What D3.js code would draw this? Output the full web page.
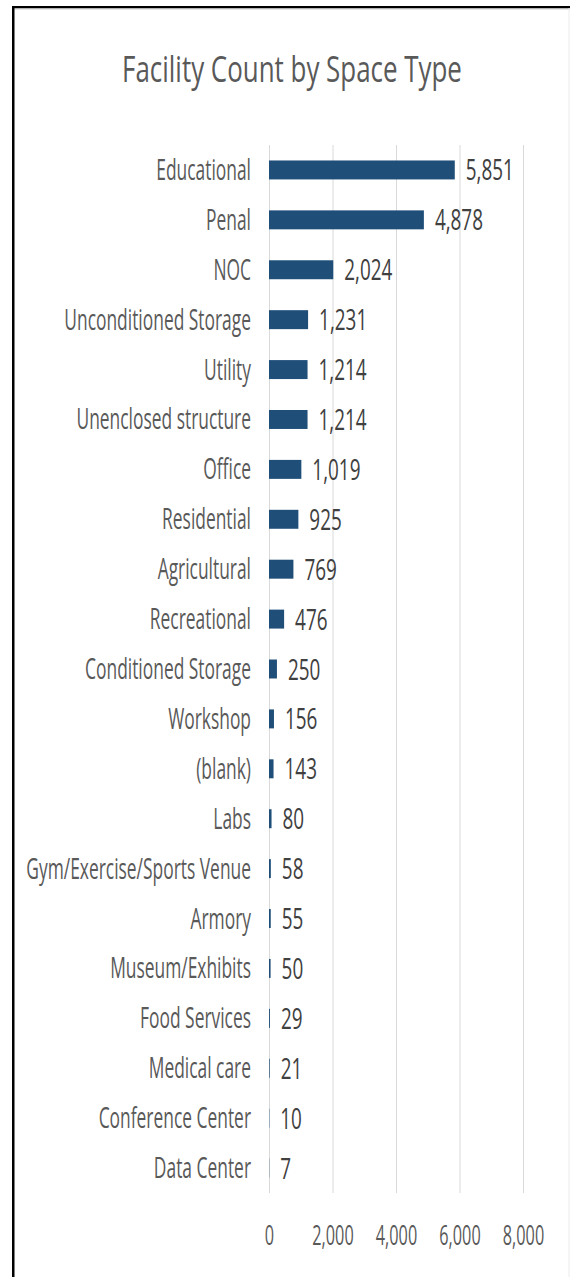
<!DOCTYPE html>
<html>
<head>
<meta charset="utf-8">
<script src="https://cdn.jsdelivr.net/npm/d3@7"></script>
<style>
  html, body { margin: 0; padding: 0; background: #fff; }
  svg { display: block; }
</style>
</head>
<body>
<svg id="chart" width="570" height="1277"></svg>
<script>
const categories = [
  'Educational', 'Penal', 'NOC', 'Unconditioned Storage', 'Utility',
  'Unenclosed structure', 'Office', 'Residential', 'Agricultural', 'Recreational',
  'Conditioned Storage', 'Workshop', '(blank)', 'Labs', 'Gym/Exercise/Sports Venue',
  'Armory', 'Museum/Exhibits', 'Food Services', 'Medical care', 'Conference Center',
  'Data Center'
];
const counts = [
  5851, 4878, 2024, 1231, 1214,
  1214, 1019, 925, 769, 476,
  250, 156, 143, 80, 58,
  55, 50, 29, 21, 10,
  7
];
const xTicks = [0, 2000, 4000, 6000, 8000];
const title = 'Facility Count by Space Type';

const config = {
  'font': '"Open Sans", sans-serif',
  'bar': '#1f4e79',
  'grid': '#d9d9d9',
  'label': '#595959',
  'value': '#404040'
};

const rows = categories.map((c, i) => ({ name: c, value: counts[i] }));

const svg = d3.select('#chart');

// frame of the screenshot
svg.append('rect').attr('x', 12).attr('y', 6).attr('width', 558).attr('height', 2.5).attr('fill', '#000');
svg.append('rect').attr('x', 12).attr('y', 8.5).attr('width', 558).attr('height', 1.5).attr('fill', '#e6e6e6');
svg.append('rect').attr('x', 12).attr('y', 6).attr('width', 2.5).attr('height', 1271).attr('fill', '#000');
svg.append('rect').attr('x', 568.5).attr('y', 8).attr('width', 1).attr('height', 1269).attr('fill', '#ececec');

const x = d3.scaleLinear().domain([0, 8000]).range([269, 523]);
const y = d3.scaleBand().domain(categories).range([145, 1193]).paddingInner(0.62).paddingOuter(0.31);

// the source picture is squashed sideways, so text gets a horizontal squeeze
const squeezed = (tx, ty, sx) => `translate(${tx},${ty}) scale(${sx},1)`;

// title
svg.append('text')
  .attr('transform', squeezed(292, 82, 0.72))
  .attr('text-anchor', 'middle')
  .attr('font-family', config['font'])
  .attr('font-size', 36)
  .attr('fill', config['label'])
  .text(title);

// gridlines
svg.append('g')
  .attr('class', 'grid')
  .selectAll('line')
  .data(xTicks)
  .enter()
  .append('line')
  .attr('x1', d => x(d) + 0.5)
  .attr('x2', d => x(d) + 0.5)
  .attr('y1', 145)
  .attr('y2', 1193)
  .attr('stroke', config['grid'])
  .attr('stroke-width', 1);

// x axis labels, drawn with d3.axisBottom and then restyled
const axis = svg.append('g')
  .attr('transform', 'translate(0,1219)')
  .call(d3.axisBottom(x).tickValues(xTicks).tickFormat(d3.format(',')).tickSize(0));
axis.select('.domain').remove();
axis.selectAll('.tick text')
  .attr('y', 0)
  .attr('dy', 0)
  .attr('transform', 'translate(0,26) scale(0.58,1)')
  .attr('font-family', config['font'])
  .attr('font-size', 28)
  .attr('fill', config['label']);

// bars
svg.append('g')
  .attr('class', 'bars')
  .selectAll('rect')
  .data(rows)
  .enter()
  .append('rect')
  .attr('x', x(0))
  .attr('y', d => y(d.name))
  .attr('width', d => x(d.value) - x(0))
  .attr('height', y.bandwidth())
  .attr('fill', config['bar']);

// category labels
svg.append('g')
  .attr('class', 'labels')
  .selectAll('text')
  .data(rows)
  .enter()
  .append('text')
  .attr('transform', d => squeezed(251, y(d.name) + y.bandwidth() / 2 + 10, 0.6))
  .attr('text-anchor', 'end')
  .attr('font-family', config['font'])
  .attr('font-size', 29)
  .attr('fill', config['label'])
  .text(d => d.name);

// value labels
svg.append('g')
  .attr('class', 'values')
  .selectAll('text')
  .data(rows)
  .enter()
  .append('text')
  .attr('transform', d => squeezed(x(d.value) + 11, y(d.name) + y.bandwidth() / 2 + 10.5, 0.63))
  .attr('font-family', config['font'])
  .attr('font-size', 30)
  .attr('fill', config['value'])
  .text(d => d3.format(',')(d.value));
</script>
</body>
</html>
